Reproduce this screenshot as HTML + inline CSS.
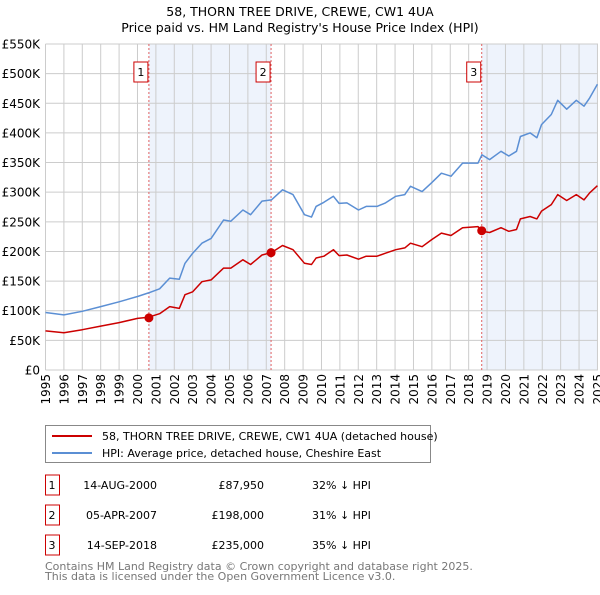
<!DOCTYPE html>
<html><head><meta charset="utf-8"><style>
body{margin:0;background:#fff;font-family:"Liberation Sans","DejaVu Sans",sans-serif;}
svg text{font-family:"DejaVu Sans","Liberation Sans",sans-serif;}
</style></head><body>
<svg id="chart" width="600" height="590" xmlns="http://www.w3.org/2000/svg">
<text x="300" y="16" font-size="12.5" text-anchor="middle">58, THORN TREE DRIVE, CREWE, CW1 4UA</text>
<text x="300" y="32" font-size="12.5" text-anchor="middle">Price paid vs. HM Land Registry's House Price Index (HPI)</text>
<g id="plot"></g>
<g>
<rect x="45.5" y="425.5" width="385" height="37" fill="#fff" stroke="#888"/>
<line x1="52" y1="436" x2="92" y2="436" stroke="#cc0000" stroke-width="2"/>
<text x="102" y="440" font-size="11">58, THORN TREE DRIVE, CREWE, CW1 4UA (detached house)</text>
<line x1="52" y1="453" x2="92" y2="453" stroke="#5b8fd4" stroke-width="2"/>
<text x="102" y="457" font-size="11">HPI: Average price, detached house, Cheshire East</text>
</g>
<g id="table" font-size="11"></g>
<text x="45" y="570" font-size="11" fill="#777">Contains HM Land Registry data © Crown copyright and database right 2025.</text>
<text x="45" y="580" font-size="11" fill="#777">This data is licensed under the Open Government Licence v3.0.</text>
</svg>
<script>
const years=[1995,1996,1997,1998,1999,2000,2000.6,2001.2,2001.75,2002.27,2002.58,2003,2003.5,2004,2004.68,2005.07,2005.73,2006.15,2006.77,2007.28,2007.88,2008.45,2009.08,2009.46,2009.71,2010.13,2010.65,2010.96,2011.38,2012.01,2012.43,2013.02,2013.48,2014.04,2014.53,2014.84,2015.47,2015.99,2016.52,2017.04,2017.67,2018.51,2018.72,2019.14,2019.76,2020.18,2020.6,2020.81,2021.34,2021.71,2021.96,2022.49,2022.84,2023.33,2023.85,2024.27,2024.58,2025];
const hpiValues=[97,93,99,107,115,124,130,137,155,153,180,197,214,222,253,251,270,262,285,287,304,296,262,258,276,283,293,281,282,270,276,276,282,293,296,310,301,316,332,327,349,349,363,355,369,361,369,394,400,392,414,431,455,440,455,445,459,482];
const propertyValues=[66,63,68,74,80,87,89,95,107,104,127,132,149,152,172,172,186,178,194,198,210,203,180,178,189,192,203,193,194,187,192,192,197,203,206,214,208,220,231,227,240,242,234,232,240,234,237,255,259,255,268,279,296,286,296,287,299,311];
const saleYears=[2000.62,2007.26,2018.71];
const salePrices=[87.95,198,235];
const saleLabels=["1","2","3"];
const saleDates=["14-AUG-2000","05-APR-2007","14-SEP-2018"];
const salePriceText=["£87,950","£198,000","£235,000"];
const saleDiff=["32% ↓ HPI","31% ↓ HPI","35% ↓ HPI"];
const yTicks=[0,50,100,150,200,250,300,350,400,450,500,550];
const yTickLabels=["£0","£50K","£100K","£150K","£200K","£250K","£300K","£350K","£400K","£450K","£500K","£550K"];
const xTicks=[1995,1996,1997,1998,1999,2000,2001,2002,2003,2004,2005,2006,2007,2008,2009,2010,2011,2012,2013,2014,2015,2016,2017,2018,2019,2020,2021,2022,2023,2024,2025];

const NS="http://www.w3.org/2000/svg";
const X0=45.5,X1=598,Y0=370,Y1=44,XMIN=1995,XMAX=2025.03,VMAX=550;
const xs=v=>X0+(v-XMIN)/(XMAX-XMIN)*(X1-X0);
const ys=v=>Y0-v/VMAX*(Y0-Y1);
const plot=document.getElementById('plot');
function mk(tag,attrs,parent){const e=document.createElementNS(NS,tag);for(const k in attrs)e.setAttribute(k,attrs[k]);(parent||plot).appendChild(e);return e;}

// shading
let sh=mk('rect',{x:xs(saleYears[0]),y:Y1,width:xs(saleYears[1])-xs(saleYears[0]),height:Y0-Y1,fill:'#eef3fc'});


let sh2=mk('rect',{x:xs(saleYears[2]),y:Y1,width:X1-xs(saleYears[2]),height:Y0-Y1,fill:'#eef3fc'});



yTicks.forEach((t,i)=>{
  const l=mk('line',{x1:X0,x2:X1,y1:ys(t),y2:ys(t),stroke:'#cccccc','stroke-width':1});
  
  
  const tx=mk('text',{x:40,y:ys(t)+4.5,'font-size':12,'text-anchor':'end'});
  tx.textContent=yTickLabels[i];
  
  
});
xTicks.forEach(t=>{
  const l=mk('line',{x1:xs(t),x2:xs(t),y1:Y1,y2:Y0,stroke:'#cccccc','stroke-width':1});
  
  
  const tx=mk('text',{x:0,y:0,'font-size':12,'text-anchor':'end',transform:`translate(${xs(t)+4.5},374) rotate(-90)`});
  tx.textContent=String(t);
  
  
});
saleYears.forEach((s,i)=>{
  const l=mk('line',{x1:xs(s),x2:xs(s),y1:Y1,y2:Y0,stroke:'#e06060','stroke-width':1,'stroke-dasharray':'2,2'});
  
  
});
function line(vals,color,name){
  const d=vals.map((v,i)=>(i?'L':'M')+xs(years[i]).toFixed(1)+','+ys(v).toFixed(1)).join('');
  const p=mk('path',{d:d,fill:'none',stroke:color,'stroke-width':1.5,'stroke-linejoin':'round'});
  
  
}
line(hpiValues,'#5b8fd4','hpi-line');
line(propertyValues,'#cc0000','property-line');
saleYears.forEach((s,i)=>{
  const c=mk('circle',{cx:xs(s),cy:ys(salePrices[i]),r:4.5,fill:'#cc0000'});
  
  
  const b=mk('rect',{x:xs(s)-15,y:62,width:14,height:20,fill:'#fff',stroke:'#cc0000'});
  
  
  const t=mk('text',{x:xs(s)-8,y:76,'font-size':11,'text-anchor':'middle'});
  t.textContent=saleLabels[i];
  
  
});
const tbl=document.getElementById('table');
saleLabels.forEach((lab,i)=>{
  const y=483+i*30;
  const b=mk('rect',{x:45.5,y:y-8,width:14,height:20,fill:'#fff',stroke:'#cc0000'},tbl);
  
  
  const cells=[[52,lab,'middle'],[157,saleDates[i],'end'],[264,salePriceText[i],'end'],[312,saleDiff[i],'start']];
  cells.forEach((c,j)=>{
    const t=mk('text',{x:c[0],y:y+6,'text-anchor':c[2]},tbl);
    t.textContent=c[1];
    
    
  });
});
</script>
</body></html>
